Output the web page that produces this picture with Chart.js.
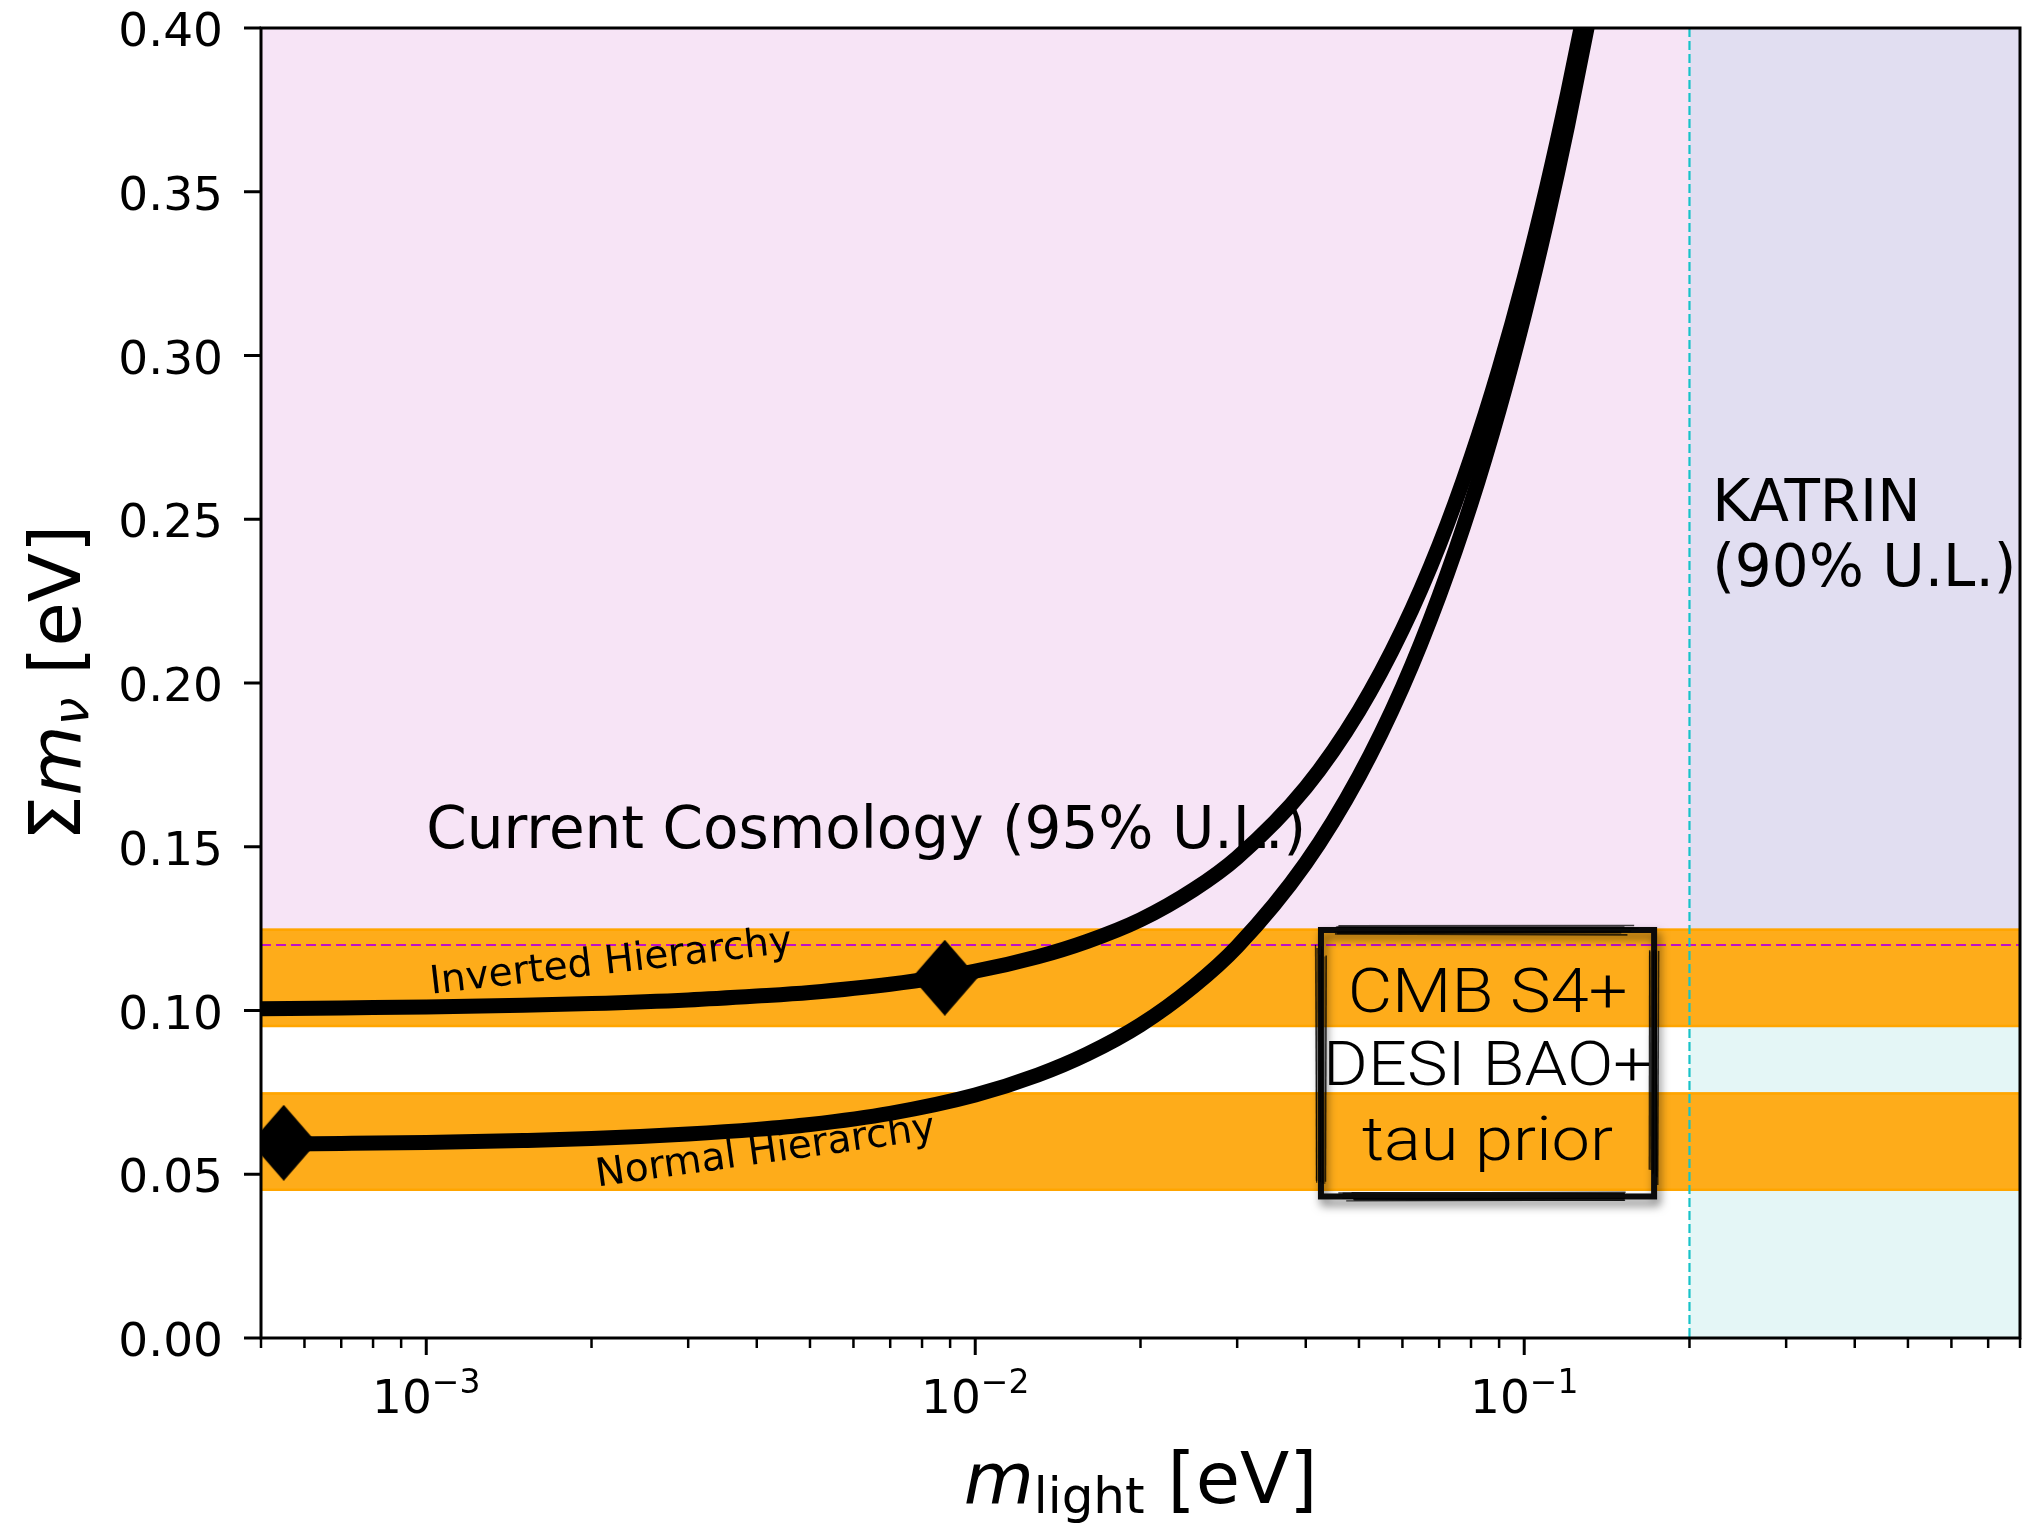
<!DOCTYPE html>
<html>
<head>
<meta charset="utf-8">
<script src="https://cdn.jsdelivr.net/npm/chart.js@4.4.1/dist/chart.umd.min.js"></script>
<style>
  html, body { margin: 0; padding: 0; background: #ffffff; }
  canvas { display: block; }
</style>
</head>
<body>
<canvas id="c" width="2030" height="1524"></canvas>
<script>
// Lightest neutrino mass [eV]
const mLight = [0.0005, 0.0007, 0.001, 0.0015, 0.002, 0.003, 0.004, 0.005, 0.007, 0.01,
                0.013, 0.016, 0.02, 0.025, 0.03, 0.04, 0.05, 0.06, 0.07, 0.08,
                0.09, 0.10, 0.11, 0.12, 0.13, 0.14];
// Sum of neutrino masses [eV], inverted ordering
const sumInverted = [0.1005, 0.1008, 0.1011, 0.1016, 0.1021, 0.1032, 0.1044, 0.1055, 0.1080, 0.1120,
                     0.1164, 0.1211, 0.1277, 0.1369, 0.1467, 0.1681, 0.1915, 0.2163, 0.2421, 0.2688,
                     0.2960, 0.3236, 0.3517, 0.3801, 0.4086, 0.4370];
// Sum of neutrino masses [eV], normal ordering
const sumNormal = [0.0592, 0.0594, 0.0597, 0.0603, 0.0609, 0.0623, 0.0637, 0.0652, 0.0686, 0.0742,
                   0.0803, 0.0867, 0.0956, 0.1074, 0.1195, 0.1450, 0.1715, 0.1987, 0.2266, 0.2548,
                   0.2834, 0.3122, 0.3412, 0.3703, 0.3996, 0.4289];
// Diamond markers (normal, inverted)
const markerMass = [0.00055, 0.0088];
const markerSum = [0.0596, 0.1100];

// Forecast bands and limits
const bandInverted = [0.095, 0.125];
const bandNormal = [0.045, 0.075];
const cosmologyLimit = 0.12;
const katrinLimit = 0.2;

// Axes
const xRange = [5e-4, 0.8];
const yRange = [0, 0.4];
const yTicks = [0, 0.05, 0.10, 0.15, 0.20, 0.25, 0.30, 0.35, 0.40];
const yTickLabels = ['0.00', '0.05', '0.10', '0.15', '0.20', '0.25', '0.30', '0.35', '0.40'];
const xMajorTicks = [1e-3, 1e-2, 1e-1];
const xMajorExponents = ['\u22123', '\u22122', '\u22121'];
const xMinorTicks = [5e-4, 6e-4, 7e-4, 8e-4, 9e-4,
                     2e-3, 3e-3, 4e-3, 5e-3, 6e-3, 7e-3, 8e-3, 9e-3,
                     2e-2, 3e-2, 4e-2, 5e-2, 6e-2, 7e-2, 8e-2, 9e-2,
                     2e-1, 3e-1, 4e-1, 5e-1, 6e-1, 7e-1, 8e-1];

// Text annotations
const cosmologyText = 'Current Cosmology (95% U.L.)';
const katrinLines = ['KATRIN', '(90% U.L.)'];
const forecastLines = ['CMB S4+', 'DESI BAO+', 'tau prior'];
const forecastBox = { x: [0.0421, 0.1746], y: [0.0423, 0.1255] };

const FONT = '"DejaVu Sans", "Liberation Sans", sans-serif';

// Thin diamond used as the point style of the markers
function makeDiamond(w, h) {
  const c = document.createElement('canvas');
  c.width = w; c.height = h;
  const g = c.getContext('2d');
  g.fillStyle = '#000';
  g.beginPath();
  g.moveTo(w / 2, 0); g.lineTo(w, h / 2); g.lineTo(w / 2, h); g.lineTo(0, h / 2);
  g.closePath(); g.fill();
  return c;
}
const diamond = makeDiamond(66, 76);

function hRule(ctx, a, y, color, width, dash) {
  ctx.save();
  ctx.strokeStyle = color; ctx.lineWidth = width; ctx.setLineDash(dash || []);
  ctx.beginPath(); ctx.moveTo(a.left, y); ctx.lineTo(a.right, y); ctx.stroke();
  ctx.restore();
}

// Hand-drawn looking frame with a soft drop shadow
function brushFrame(ctx, x0, y0, x1, y1) {
  ctx.save();
  ctx.shadowColor = 'rgba(0,0,0,0.55)';
  ctx.shadowBlur = 10; ctx.shadowOffsetX = 3; ctx.shadowOffsetY = 6;
  ctx.strokeStyle = '#0a0a0a'; ctx.lineWidth = 6;
  ctx.strokeRect(x0, y0, x1 - x0, y1 - y0);
  ctx.restore();
  ctx.save();
  ctx.strokeStyle = 'rgba(0,0,0,0.75)';
  const sides = [[x0, y0, x1, y0], [x1, y0, x1, y1], [x1, y1, x0, y1], [x0, y1, x0, y0]];
  sides.forEach((s, k) => {
    for (let i = 0; i < 7; i++) {
      const off = 4.5 * Math.sin(1.7 * i + 2.3 * k + 0.4);
      const t0 = 0.04 + 0.05 * Math.abs(Math.sin(3.1 * i + k));
      const t1 = 0.96 - 0.06 * Math.abs(Math.cos(2.3 * i + k));
      const horiz = s[1] === s[3];
      ctx.lineWidth = 0.8 + 0.8 * Math.abs(Math.sin(i * 1.3 + k));
      ctx.beginPath();
      if (horiz) {
        ctx.moveTo(s[0] + (s[2] - s[0]) * t0, s[1] + off);
        ctx.lineTo(s[0] + (s[2] - s[0]) * t1, s[1] + off + 1.2 * Math.sin(i + k));
      } else {
        ctx.moveTo(s[0] + off, s[1] + (s[3] - s[1]) * t0);
        ctx.lineTo(s[0] + off + 1.2 * Math.sin(i + k), s[1] + (s[3] - s[1]) * t1);
      }
      ctx.stroke();
    }
  });
  ctx.restore();
}

const decor = {
  id: 'decor',
  beforeDatasetsDraw(chart) {
    const ctx = chart.ctx, a = chart.chartArea;
    const xs = chart.scales.x, ys = chart.scales.y;
    const xK = xs.getPixelForValue(katrinLimit);
    const yC = ys.getPixelForValue(cosmologyLimit);
    const yTop = ys.getPixelForValue(yRange[1]);
    const yBot = ys.getPixelForValue(yRange[0]);
    ctx.save();
    ctx.fillStyle = '#ffffff';
    ctx.fillRect(a.left, a.top, a.right - a.left, a.bottom - a.top);
    // cosmology exclusion
    ctx.fillStyle = '#f7e4f6';
    ctx.fillRect(a.left, yTop, xK - a.left, yC - yTop);
    // KATRIN exclusion
    ctx.fillStyle = '#e1def1';
    ctx.fillRect(xK, yTop, a.right - xK, yC - yTop);
    ctx.fillStyle = '#e4f6f6';
    ctx.fillRect(xK, yC, a.right - xK, yBot - yC);
    // forecast bands
    [bandInverted, bandNormal].forEach(b => {
      const y0 = ys.getPixelForValue(b[1]), y1 = ys.getPixelForValue(b[0]);
      ctx.fillStyle = '#feac1a';
      ctx.fillRect(a.left, y0, a.right - a.left, y1 - y0);
      hRule(ctx, a, y0 + 1, '#ffa500', 2.5);
      hRule(ctx, a, y1 - 1, '#ffa500', 2.5);
    });
    // limit lines
    hRule(ctx, a, yC, '#c010c8', 2.2, [10, 5]);
    ctx.strokeStyle = '#17c3c8'; ctx.lineWidth = 2.2; ctx.setLineDash([9, 4]);
    ctx.beginPath(); ctx.moveTo(xK, a.top); ctx.lineTo(xK, a.bottom); ctx.stroke();
    ctx.restore();
  },
  afterDatasetsDraw(chart) {
    const ctx = chart.ctx, a = chart.chartArea;
    const xs = chart.scales.x, ys = chart.scales.y;
    ctx.save();
    // frame
    ctx.strokeStyle = '#000'; ctx.lineWidth = 3; ctx.setLineDash([]);
    ctx.strokeRect(a.left, a.top, a.right - a.left, a.bottom - a.top);
    // y ticks and labels
    ctx.fillStyle = '#000';
    ctx.font = '47px ' + FONT;
    ctx.textAlign = 'right'; ctx.textBaseline = 'alphabetic';
    yTicks.forEach((v, i) => {
      const y = ys.getPixelForValue(v);
      ctx.beginPath(); ctx.moveTo(a.left - 17, y); ctx.lineTo(a.left, y); ctx.stroke();
      ctx.fillText(yTickLabels[i], a.left - 38, y + 18);
    });
    // x ticks
    ctx.lineWidth = 2.5;
    xMinorTicks.forEach(v => {
      const x = xs.getPixelForValue(v);
      ctx.beginPath(); ctx.moveTo(x, a.bottom); ctx.lineTo(x, a.bottom + 10); ctx.stroke();
    });
    ctx.lineWidth = 3;
    xMajorTicks.forEach((v, i) => {
      const x = xs.getPixelForValue(v);
      ctx.beginPath(); ctx.moveTo(x, a.bottom); ctx.lineTo(x, a.bottom + 17); ctx.stroke();
      ctx.font = '47px ' + FONT;
      const wBase = ctx.measureText('10').width;
      ctx.font = '33px ' + FONT;
      const wExp = ctx.measureText(xMajorExponents[i]).width;
      const x0 = x - (wBase + wExp) / 2;
      ctx.textAlign = 'left';
      ctx.font = '47px ' + FONT;
      ctx.fillText('10', x0, a.bottom + 75);
      ctx.font = '33px ' + FONT;
      ctx.fillText(xMajorExponents[i], x0 + wBase, a.bottom + 55);
    });
    // x axis title: m_light [eV]
    {
      const parts = [
        { t: 'm', f: 'italic 72px ' + FONT, dy: 0 },
        { t: 'light', f: '50px ' + FONT, dy: 10 },
        { t: ' [eV]', f: '72px ' + FONT, dy: 0 }
      ];
      let w = 0;
      parts.forEach(p => { ctx.font = p.f; p.w = ctx.measureText(p.t).width; w += p.w; });
      let x = (a.left + a.right) / 2 - w / 2;
      const base = a.bottom + 165;
      ctx.textAlign = 'left';
      parts.forEach(p => { ctx.font = p.f; ctx.fillText(p.t, x, base + p.dy); x += p.w; });
    }
    // y axis title: Σm_ν [eV]
    {
      const parts = [
        { t: '\u03A3', f: '72px ' + FONT, dy: 0 },
        { t: 'm', f: 'italic 72px ' + FONT, dy: 0 },
        { t: '\u03BD', f: 'italic 50px ' + FONT, dy: 8 },
        { t: ' [eV]', f: '72px ' + FONT, dy: 0 }
      ];
      let w = 0;
      parts.forEach(p => { ctx.font = p.f; p.w = ctx.measureText(p.t).width; w += p.w; });
      ctx.save();
      ctx.translate(80, (a.top + a.bottom) / 2);
      ctx.rotate(-Math.PI / 2);
      let x = -w / 2;
      ctx.textAlign = 'left';
      parts.forEach(p => { ctx.font = p.f; ctx.fillText(p.t, x, p.dy); x += p.w; });
      ctx.restore();
    }
    // region labels
    ctx.textAlign = 'left'; ctx.textBaseline = 'alphabetic';
    ctx.font = '58px ' + FONT;
    ctx.fillText(cosmologyText, xs.getPixelForValue(0.001), ys.getPixelForValue(0.1496));
    const kx = xs.getPixelForValue(0.22), ky = ys.getPixelForValue(0.2297);
    ctx.fillText(katrinLines[0], kx, ky - 65);
    ctx.fillText(katrinLines[1], kx, ky);
    // curve labels
    ctx.font = '39px ' + FONT;
    ctx.textAlign = 'center'; ctx.textBaseline = 'middle';
    ctx.save();
    ctx.translate(xs.getPixelForValue(0.00217), ys.getPixelForValue(0.1145));
    ctx.rotate(-6.5 * Math.PI / 180);
    ctx.fillText('Inverted Hierarchy', 0, 0);
    ctx.restore();
    ctx.save();
    ctx.translate(xs.getPixelForValue(0.00415), ys.getPixelForValue(0.0566));
    ctx.rotate(-8 * Math.PI / 180);
    ctx.fillText('Normal Hierarchy', 0, 0);
    ctx.restore();
    // forecast box
    const bx0 = xs.getPixelForValue(forecastBox.x[0]), bx1 = xs.getPixelForValue(forecastBox.x[1]);
    const by0 = ys.getPixelForValue(forecastBox.y[1]), by1 = ys.getPixelForValue(forecastBox.y[0]);
    brushFrame(ctx, bx0 + 3, by0 + 3, bx1 - 3, by1 - 3);
    ctx.font = '300 61px Roboto, "Liberation Sans", sans-serif';
    ctx.textAlign = 'center'; ctx.textBaseline = 'alphabetic';
    const bxc = (bx0 + bx1) / 2;
    const stretch = 329 / ctx.measureText(forecastLines[1]).width;
    [85, 158, 233].forEach((dy, i) => {
      ctx.save();
      ctx.translate(bxc, by0 + dy);
      ctx.scale(stretch, 1);
      ctx.fillText(forecastLines[i], 0, 0);
      ctx.restore();
    });
    ctx.restore();
  }
};

function fixBox(s, w, h) {
  if (w !== undefined) s.width = w;
  if (h !== undefined) s.height = h;
  s.paddingLeft = 0; s.paddingRight = 0; s.paddingTop = 0; s.paddingBottom = 0;
}

const chart = new Chart(document.getElementById('c'), {
  type: 'line',
  data: {
    datasets: [
      {
        label: 'markers',
        data: markerMass.map((m, i) => ({ x: m, y: markerSum[i] })),
        showLine: false,
        pointStyle: diamond,
        pointRadius: 30,
        pointBackgroundColor: '#000',
        order: 0,
        clip: 0
      },
      {
        label: 'Inverted Hierarchy',
        data: mLight.map((m, i) => ({ x: m, y: sumInverted[i] })),
        borderColor: '#000', borderWidth: 15,
        pointRadius: 0, fill: false,
        cubicInterpolationMode: 'monotone',
        borderJoinStyle: 'round',
        order: 1, clip: 0
      },
      {
        label: 'Normal Hierarchy',
        data: mLight.map((m, i) => ({ x: m, y: sumNormal[i] })),
        borderColor: '#000', borderWidth: 15,
        pointRadius: 0, fill: false,
        cubicInterpolationMode: 'monotone',
        borderJoinStyle: 'round',
        order: 2, clip: 0
      }
    ]
  },
  options: {
    responsive: false,
    animation: false,
    devicePixelRatio: 1,
    layout: { autoPadding: false, padding: { left: 0, right: 10, top: 28, bottom: 0 } },
    plugins: { legend: { display: false }, tooltip: { enabled: false } },
    scales: {
      x: {
        type: 'logarithmic', min: xRange[0], max: xRange[1],
        grid: { display: false }, border: { display: false },
        ticks: { display: false },
        afterFit(s) { fixBox(s, undefined, 186); }
      },
      y: {
        type: 'linear', min: yRange[0], max: yRange[1],
        grid: { display: false }, border: { display: false },
        ticks: { display: false },
        afterFit(s) { fixBox(s, 261, undefined); }
      }
    }
  },
  plugins: [decor]
});
</script>
</body>
</html>
